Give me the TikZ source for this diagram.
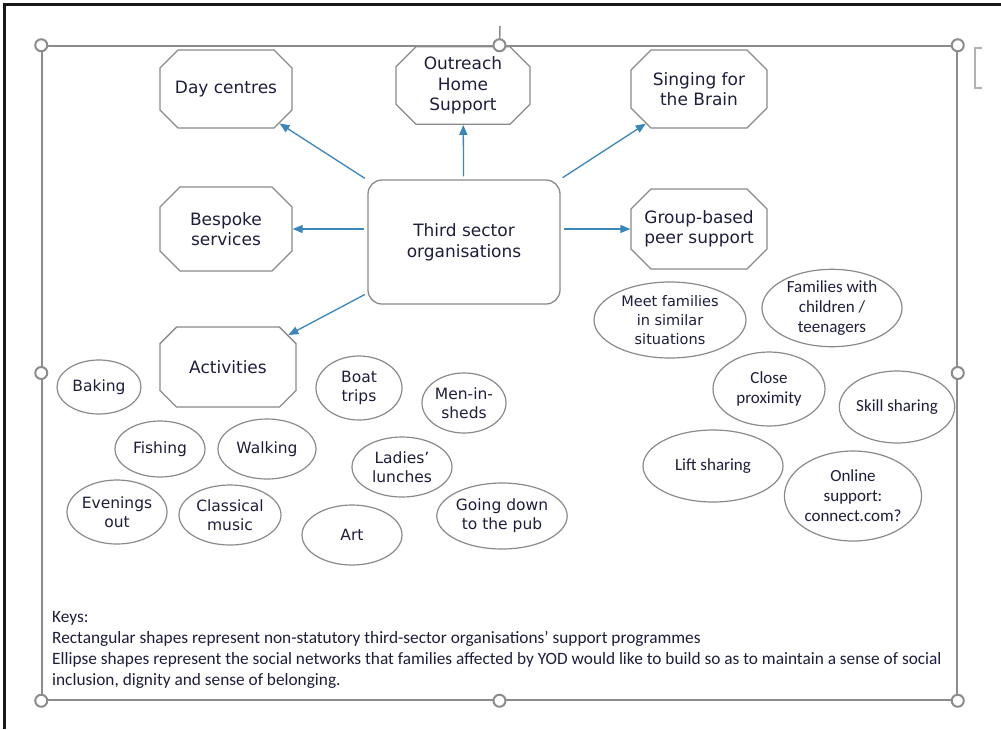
\documentclass[tikz,border=0pt]{standalone}
\usepackage{fontspec}
\setmainfont{DejaVu Sans}
\newfontfamily\calfont{Carlito}
\usetikzlibrary{shapes.misc,shapes.geometric,arrows.meta}
\definecolor{txt}{HTML}{1E1E3C}
\definecolor{edgec}{HTML}{8A8A8A}
\definecolor{arrowc}{HTML}{3B86B9}
\definecolor{selc}{HTML}{8C8C8C}
\begin{document}
\begin{tikzpicture}[x=1pt,y=-1pt,
  prog/.style={chamfered rectangle, chamfered rectangle xsep=10pt, chamfered rectangle ysep=10pt,
    draw=edgec, line width=1.3pt, fill=white, text=txt, align=center,
    font=\fontsize{17}{20.5}\selectfont, inner sep=0pt},
  hub/.style={rectangle, rounded corners=14pt, draw=edgec, line width=1.3pt, fill=white, text=txt,
    align=center, font=\fontsize{17}{21}\selectfont, inner sep=0pt},
  net/.style={ellipse, draw=edgec, line width=1.2pt, fill=white, text=txt, align=center,
    inner sep=0pt, font=\fontsize{15.5}{19}\selectfont},
  netc/.style={net, font=\calfont\fontsize{17}{20}\selectfont},
  conn/.style={draw=arrowc, line width=1.3pt, -{Triangle[length=10pt,width=8pt]}, shorten <=3pt},
  handle/.style={circle, draw=selc, line width=2pt, fill=white, minimum size=12pt, inner sep=0pt},
  keytext/.style={anchor=north west, align=left, text=txt, inner sep=0pt,
    font=\calfont\fontsize{17.3}{21.2}\selectfont}]
\useasboundingbox (0,0) rectangle (1001,729);
\fill[white] (0,0) rectangle (1001,729);
% outer frame (top and left)
\draw[line width=3pt, black!90] (4,729) -- (4,4) -- (1001,4);
% selection frame
\node[draw=selc, line width=1.5pt, minimum width=915pt, minimum height=654pt, inner sep=0pt] (sel) at (499.5,373) {};
\coordinate (stemtop) at (500,26);
\draw[selc, line width=1.5pt] (sel.north) -- (stemtop);
\coordinate (brA) at (982,48);
\coordinate (brB) at (975,48);
\coordinate (brC) at (975,88);
\coordinate (brD) at (982,88);
\draw[black!30, line width=1.2pt] (brA) -- (brB) -- (brC) -- (brD);

% programme boxes
\node[prog, minimum width=132pt, minimum height=78pt] (day) at (226,89) {Day centres};
\node[prog, minimum width=134pt, minimum height=72pt] (out) at (463,85.5) {Outreach\\Home\\Support};
\node[prog, minimum width=136pt, minimum height=78pt] (sing) at (699,89) {Singing for\\the Brain};
\node[prog, minimum width=132pt, minimum height=84pt] (besp) at (226,229) {Bespoke\\services};
\node[hub, minimum width=192pt, minimum height=124pt] (third) at (464,242) {Third sector\\organisations};
\node[prog, minimum width=136pt, minimum height=80pt] (group) at (699,229) {Group-based\\peer support};
\node[prog, minimum width=136pt, minimum height=80pt] (act) at (228,367) {Activities};

% arrows
\draw[conn] (third) -- (day);
\draw[conn] (third) -- (out);
\draw[conn] (third) -- (sing);
\draw[conn] (third.west |- besp.east) -- (besp.east);
\draw[conn] (third.east |- group.west) -- (group.west);
\draw[conn] (third) -- (act);

% activities ellipses
\node[net, minimum width=84pt, minimum height=54pt] (baking) at (99,387) {Baking};
\node[net, minimum width=86pt, minimum height=64pt] (boat) at (359,388) {Boat\\trips};
\node[net, minimum width=84pt, minimum height=60pt] (men) at (464,403) {Men-in-\\sheds};
\node[net, minimum width=90pt, minimum height=56pt] (fish) at (160,449) {Fishing};
\node[net, minimum width=98pt, minimum height=60pt] (walk) at (267,449) {Walking};
\node[net, minimum width=100pt, minimum height=60pt] (ladies) at (402,467) {Ladies'\\lunches};
\node[net, minimum width=100pt, minimum height=64pt] (even) at (117,512) {Evenings\\out};
\node[net, minimum width=102pt, minimum height=60pt] (class) at (230,515) {Classical\\music};
\node[net, minimum width=100pt, minimum height=60pt] (art) at (352,535) {Art};
\node[net, minimum width=124pt, minimum height=66pt] (pub) at (502,516) {Going down\\to the pub};

% social network ellipses
\node[net, minimum width=152pt, minimum height=76pt, font=\fontsize{14.5}{19}\selectfont] (meet) at (670,320) {Meet families\\in similar\\situations};
\node[netc, minimum width=140pt, minimum height=76pt] (famk) at (832,308) {Families with\\children /\\teenagers};
\node[netc, minimum width=112pt, minimum height=74pt] (close) at (769,389) {Close\\proximity};
\node[netc, minimum width=112pt, minimum height=72pt] (skill) at (897,407) {Skill sharing};
\node[netc, minimum width=140pt, minimum height=72pt] (lift) at (713,466) {Lift sharing};
\node[netc, minimum width=124pt, minimum height=90pt] (online) at (853,496) {Online\\support:\\connect.com?};

% key text
\node[keytext] (keys) at (52,611) {Keys:\\
Rectangular shapes represent non-statutory third-sector organisations’ support programmes\\
Ellipse shapes represent the social networks that families affected by YOD would like to build so as to maintain a sense of social\\
inclusion, dignity and sense of belonging.};

% handles
\node[handle] (h1) at (sel.north west) {};
\node[handle] (h2) at (sel.north) {};
\node[handle] (h3) at (sel.north east) {};
\node[handle] (h4) at (sel.west) {};
\node[handle] (h5) at (sel.east) {};
\node[handle] (h6) at (sel.south west) {};
\node[handle] (h7) at (sel.south) {};
\node[handle] (h8) at (sel.south east) {};
\end{tikzpicture}
\end{document}
